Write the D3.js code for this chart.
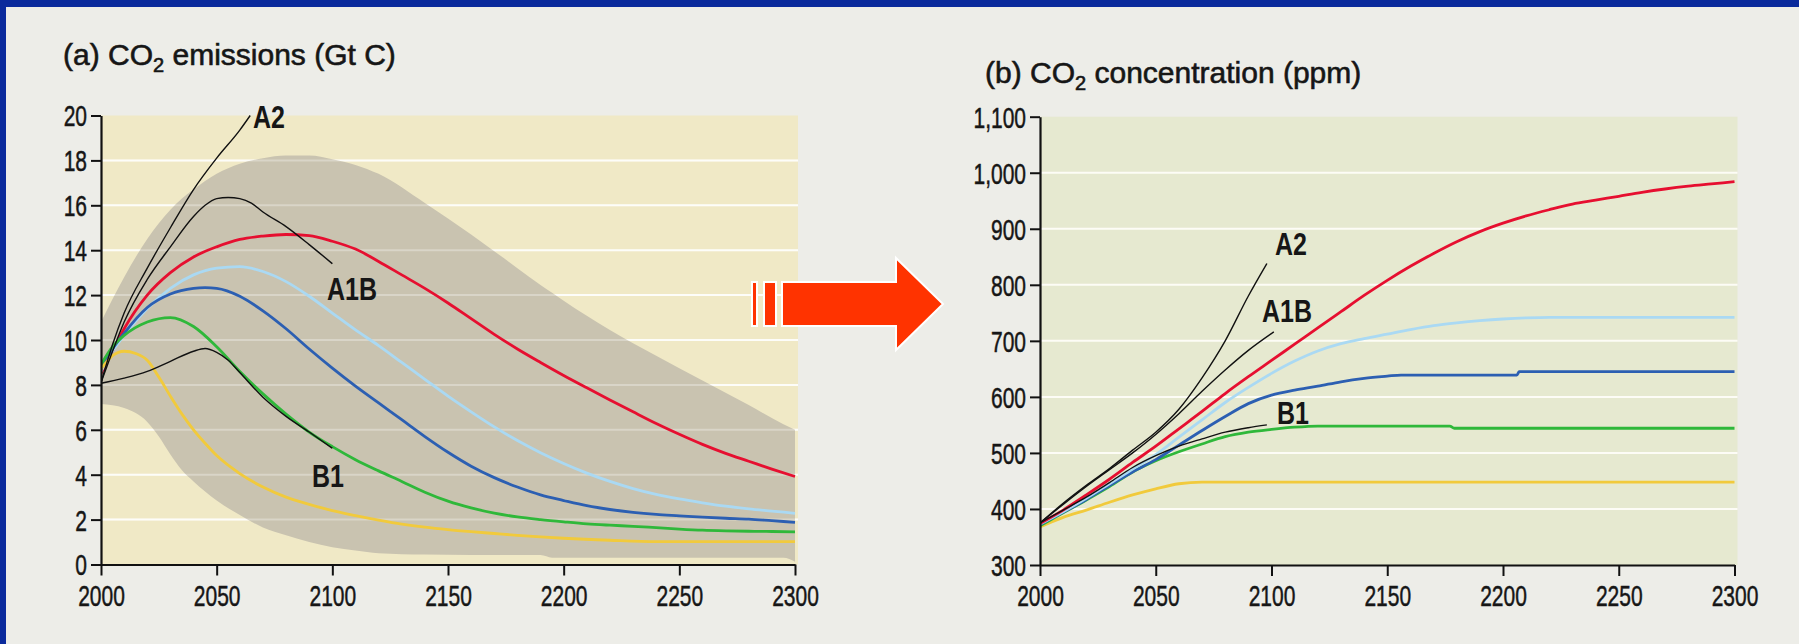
<!DOCTYPE html>
<html>
<head>
<meta charset="utf-8">
<script src="https://cdn.jsdelivr.net/npm/d3@7"></script>
<style>
  html, body { margin: 0; padding: 0; background: #0a2a9c; }
  svg { display: block; }
  text { font-family: 'Liberation Sans', Arial, Helvetica, sans-serif; fill: #161616; }
</style>
</head>
<body>
<svg id="chart"></svg>
<script>
let W = 1799, H = 644

// ---- panel (a) CO2 emissions (Gt C) ----
const envYears = [2000, 2010, 2020, 2025, 2030, 2035, 2040, 2050, 2060, 2070, 2080, 2090, 2100, 2110, 2120, 2140, 2160, 2180, 2190, 2195, 2200, 2220, 2240, 2260, 2280, 2295, 2300]
const envUpper = [10.8, 12.8, 14.5, 15.2, 15.8, 16.3, 16.7, 17.4, 17.85, 18.1, 18.22, 18.22, 18.05, 17.8, 17.4, 16.1, 14.7, 13.2, 12.45, 12.1, 11.75, 10.45, 9.3, 8.2, 7.1, 6.25, 6.0]
const envLower = [7.15, 6.97, 6.35, 5.7, 4.9, 4.2, 3.7, 2.85, 2.2, 1.65, 1.3, 1.0, 0.77, 0.62, 0.5, 0.44, 0.42, 0.42, 0.42, 0.3, 0.3, 0.3, 0.3, 0.3, 0.3, 0.3, 0.12]

const emisRed = [[2000, 8.5], [2005, 9.5], [2010, 10.5], [2020, 12.0], [2030, 13.0], [2040, 13.7], [2050, 14.15], [2060, 14.48], [2070, 14.63], [2080, 14.7], [2090, 14.65], [2100, 14.4], [2110, 14.05], [2120, 13.5], [2130, 12.9], [2140, 12.3], [2150, 11.65], [2160, 10.95], [2170, 10.25], [2180, 9.6], [2190, 9.0], [2200, 8.42], [2210, 7.87], [2220, 7.33], [2230, 6.8], [2240, 6.28], [2250, 5.8], [2260, 5.35], [2270, 4.95], [2280, 4.6], [2290, 4.25], [2300, 3.92]]
const emisLtBlue = [[2000, 8.6], [2005, 9.5], [2010, 10.2], [2020, 11.4], [2030, 12.3], [2040, 12.9], [2050, 13.2], [2060, 13.27], [2070, 13.05], [2080, 12.6], [2090, 11.95], [2100, 11.2], [2110, 10.45], [2120, 9.75], [2130, 9.0], [2140, 8.25], [2150, 7.5], [2160, 6.8], [2170, 6.13], [2180, 5.52], [2190, 4.98], [2200, 4.5], [2210, 4.07], [2220, 3.7], [2230, 3.38], [2240, 3.12], [2250, 2.92], [2260, 2.75], [2270, 2.6], [2280, 2.48], [2290, 2.38], [2300, 2.28]]
const emisBlue = [[2000, 8.7], [2005, 9.6], [2010, 10.3], [2020, 11.45], [2030, 12.05], [2040, 12.3], [2045, 12.33], [2050, 12.3], [2060, 11.95], [2070, 11.3], [2080, 10.5], [2090, 9.6], [2100, 8.75], [2110, 7.95], [2120, 7.2], [2130, 6.45], [2140, 5.7], [2150, 5.0], [2160, 4.38], [2170, 3.87], [2180, 3.45], [2190, 3.1], [2200, 2.85], [2210, 2.62], [2220, 2.45], [2230, 2.32], [2240, 2.23], [2250, 2.17], [2260, 2.11], [2270, 2.06], [2280, 2.02], [2290, 1.95], [2300, 1.88]]
const emisGreen = [[2000, 8.9], [2005, 9.7], [2010, 10.2], [2020, 10.8], [2030, 11.0], [2040, 10.6], [2050, 9.7], [2060, 8.6], [2070, 7.6], [2080, 6.7], [2090, 5.9], [2100, 5.25], [2110, 4.67], [2120, 4.17], [2130, 3.7], [2140, 3.22], [2150, 2.82], [2160, 2.52], [2170, 2.29], [2180, 2.12], [2190, 2.0], [2200, 1.9], [2210, 1.81], [2220, 1.75], [2230, 1.7], [2240, 1.64], [2250, 1.58], [2260, 1.53], [2270, 1.5], [2280, 1.48], [2290, 1.47], [2300, 1.45]]
const emisYellow = [[2000, 8.7], [2005, 9.3], [2010, 9.5], [2015, 9.4], [2020, 9.1], [2025, 8.35], [2030, 7.5], [2035, 6.7], [2040, 6.0], [2045, 5.4], [2050, 4.85], [2060, 4.05], [2070, 3.45], [2080, 3.0], [2090, 2.68], [2100, 2.4], [2110, 2.18], [2120, 1.98], [2130, 1.8], [2140, 1.66], [2150, 1.55], [2160, 1.46], [2170, 1.38], [2180, 1.3], [2190, 1.23], [2200, 1.17], [2220, 1.08], [2240, 1.02], [2300, 1.02]]
const emisA2 = [[2000, 8.1], [2005, 9.8], [2010, 11.2], [2020, 13.2], [2030, 15.0], [2040, 16.7], [2050, 18.1], [2060, 19.35], [2064.5, 20]]
const emisA1B = [[2000, 8.1], [2005, 9.5], [2010, 10.8], [2020, 12.7], [2030, 14.15], [2040, 15.5], [2045, 16.0], [2050, 16.3], [2055, 16.35], [2060, 16.3], [2065, 16.1], [2070, 15.7], [2080, 15.05], [2090, 14.25], [2100, 13.4]]
const emisB1 = [[2000, 8.07], [2010, 8.3], [2020, 8.6], [2030, 9.05], [2040, 9.5], [2045, 9.62], [2050, 9.45], [2055, 9.1], [2060, 8.55], [2070, 7.45], [2080, 6.6], [2090, 5.9], [2100, 5.18]]

// ---- panel (b) CO2 concentration (ppm) ----
const concRed = [[2000, 374], [2010, 398], [2020, 425], [2030, 453], [2040, 483], [2050, 512], [2060, 543], [2070, 574], [2080, 606], [2090, 636], [2100, 665], [2110, 694], [2120, 723], [2130, 752], [2140, 781], [2150, 808], [2160, 833], [2170, 856], [2180, 877], [2190, 895], [2200, 910], [2210, 923], [2220, 934], [2230, 944], [2240, 951], [2250, 958], [2260, 965], [2270, 971], [2280, 976], [2290, 980], [2300, 984]]
const concLtBlue = [[2000, 373], [2010, 395], [2020, 419], [2030, 445], [2040, 471], [2050, 497], [2060, 528], [2070, 559], [2080, 590], [2090, 617], [2100, 642], [2110, 664], [2120, 682], [2130, 695], [2140, 704], [2150, 712], [2160, 720], [2170, 727], [2180, 732], [2190, 736], [2200, 739], [2210, 741], [2220, 742], [2300, 742]]
const concBlue = [[2000, 372], [2010, 394], [2020, 417], [2030, 442], [2040, 466], [2050, 488], [2060, 514], [2070, 540], [2080, 565], [2090, 588], [2100, 603], [2110, 612], [2120, 619], [2130, 627], [2140, 633], [2150, 637], [2156, 639], [2206, 639], [2207, 645], [2300, 645]]
const concGreen = [[2000, 370], [2010, 393], [2020, 416], [2030, 440], [2040, 466], [2050, 486], [2060, 502], [2070, 516], [2080, 529], [2090, 537], [2100, 542], [2110, 546], [2120, 548], [2177, 548], [2179, 544], [2300, 544]]
const concYellow = [[2000, 368], [2010, 385], [2020, 398], [2030, 412], [2040, 425], [2050, 436], [2060, 445], [2070, 448], [2300, 448]]
const concA2 = [[2000, 375], [2010, 410], [2020, 442], [2030, 472], [2040, 505], [2050, 537], [2060, 578], [2070, 634], [2080, 700], [2090, 780], [2098, 838]]
const concA1B = [[2000, 375], [2010, 408], [2020, 440], [2030, 470], [2040, 500], [2050, 533], [2060, 570], [2070, 610], [2080, 648], [2090, 683], [2101, 716]]
const concB1 = [[2000, 375], [2010, 398], [2020, 421], [2030, 447], [2040, 474], [2050, 495], [2060, 512], [2070, 525], [2080, 537], [2090, 545], [2098, 550]]

const xTicks = [2000, 2050, 2100, 2150, 2200, 2250, 2300]
const yTicksA = [0, 2, 4, 6, 8, 10, 12, 14, 16, 18, 20]
const yTicksB = [300, 400, 500, 600, 700, 800, 900, 1000, 1100]

// scenario labels: [text, year, value]
const labelsA = [['A2', 2065.7, 19.44], ['A1B', 2097.7, 11.78], ['B1', 2091.2, 3.45]]
const labelsB = [['A2', 2101.5, 853], ['A1B', 2095.9, 733], ['B1', 2102.4, 551]]

const colors = { red: '#e60f30', ltblue: '#aad9f3', blue: '#2c5fb2', green: '#2fb83a', yellow: '#f1ca3c' }

let translate = (x, y) => 'translate(' + x + ',' + y + ')'
let SY = 1.38      // tick labels are tall and narrow in the original
let LSY = 1.22

let svg = d3.select('#chart').attr('width', W).attr('height', H)

// frame
svg.append('rect').attr('width', W).attr('height', H).attr('fill', '#0a2a9c')
svg.append('rect').attr('x', 6).attr('y', 7).attr('width', W - 6).attr('height', H - 7).attr('fill', '#ededE8')

let defs = svg.append('defs')

function panel(cfg) {
  let g = svg.append('g')
  let x = cfg.x, y = cfg.y
  let [x0, x1] = x.range()
  let [y0, y1] = y.range()

  g.append('rect')
    .attr('x', x0).attr('y', y1)
    .attr('width', x1 - x0 + 3).attr('height', y0 - y1)
    .attr('fill', cfg.bg)

  let grid = cfg.yTicks.slice(1, -1)
  g.append('g').selectAll('line').data(grid).join('line')
    .attr('x1', x0).attr('x2', x1 + 3)
    .attr('y1', d => y(d)).attr('y2', d => y(d))
    .attr('stroke', '#fdfcf6').attr('stroke-width', 2)

  defs.append('clipPath').attr('id', cfg.id + '-clip')
    .append('rect').attr('x', x0).attr('y', y1 - 1).attr('width', x1 - x0 + 3).attr('height', y0 - y1 + 1)

  let plot = g.append('g').attr('clip-path', 'url(#' + cfg.id + '-clip)')

  if (cfg.env) {
    let area = d3.area()
      .x((d, i) => x(envYears[i]))
      .y0((d, i) => y(envLower[i]))
      .y1((d, i) => y(envUpper[i]))
      .curve(d3.curveMonotoneX)
    plot.append('path').datum(envYears).attr('d', area).attr('fill', '#c9c3b0')
    plot.append('g').selectAll('line').data(grid).join('line')
      .attr('x1', x0).attr('x2', x1 + 3)
      .attr('y1', d => y(d)).attr('y2', d => y(d))
      .attr('stroke', '#ffffff').attr('stroke-opacity', 0.3).attr('stroke-width', 2)
  }

  let line = d3.line().x(d => x(d[0])).y(d => y(d[1])).curve(d3.curveMonotoneX)

  for (let s of cfg.series) {
    plot.append('path').datum(s.data)
      .attr('d', line)
      .attr('fill', 'none')
      .attr('stroke', s.color)
      .attr('stroke-width', s.width)
      .attr('stroke-linejoin', 'round')
  }

  // axes
  let xAxis = d3.axisBottom(x).tickValues(xTicks).tickFormat(d3.format('d')).tickSize(11).tickSizeOuter(0)
  let gx = g.append('g').attr('transform', translate(0, y0)).call(xAxis)
  let yAxis = d3.axisLeft(y).tickValues(cfg.yTicks).tickFormat(cfg.fmt).tickSize(10).tickSizeOuter(0)
  let gy = g.append('g').attr('transform', translate(x0, 0)).call(yAxis)

  for (let ax of [gx, gy]) {
    ax.attr('font-family', null).attr('font-size', null)
    ax.select('.domain').attr('stroke', '#111').attr('stroke-width', 2.2)
    ax.selectAll('.tick line').attr('stroke', '#111').attr('stroke-width', 2)
    ax.selectAll('.tick text').attr('fill', '#161616').style('font-size', '21px')
      .attr('stroke', '#161616').attr('stroke-width', 0.35)
      .attr('x', null).attr('y', null).attr('dy', null)
  }
  gx.selectAll('.tick text').attr('transform', translate(0, 41) + ' scale(1,' + SY + ')')
  gy.selectAll('.tick text').attr('transform', translate(-14, 10.4) + ' scale(1,' + SY + ')')

  // title
  let t = g.append('text')
    .attr('transform', translate(cfg.titleX, cfg.titleY))
    .attr('stroke', '#161616').attr('stroke-width', 0.6)
    .style('font-size', '30px')
  t.append('tspan').text(cfg.title[0])
  t.append('tspan').attr('dy', 7).style('font-size', '20px').text('2')
  t.append('tspan').attr('dy', -7).text(cfg.title[1])

  // scenario labels
  g.append('g').selectAll('text').data(cfg.labels).join('text')
    .attr('transform', d => translate(x(d[1]), y(d[2])) + ' scale(1,' + LSY + ')')
    .style('font-size', '25px')
    .style('font-weight', 'bold')
    .text(d => d[0])
}

let xA = d3.scaleLinear().domain([2000, 2300]).range([101, 795])
let yA = d3.scaleLinear().domain([0, 20]).range([564.5, 115.5])
let xB = d3.scaleLinear().domain([2000, 2300]).range([1040, 1734.5])
let yB = d3.scaleLinear().domain([300, 1100]).range([565, 116.7])

panel({
  id: 'a', x: xA, y: yA, bg: '#f0e9c6', env: true,
  yTicks: yTicksA, fmt: d3.format('d'),
  title: ['(a) CO', ' emissions (Gt C)'], titleX: 63, titleY: 65,
  labels: labelsA,
  series: [
    { data: emisRed, color: colors.red, width: 2.8 },
    { data: emisLtBlue, color: colors.ltblue, width: 2.8 },
    { data: emisBlue, color: colors.blue, width: 2.8 },
    { data: emisGreen, color: colors.green, width: 2.8 },
    { data: emisYellow, color: colors.yellow, width: 2.8 },
    { data: emisA2, color: '#111', width: 1.4 },
    { data: emisA1B, color: '#111', width: 1.4 },
    { data: emisB1, color: '#111', width: 1.4 }
  ]
})

panel({
  id: 'b', x: xB, y: yB, bg: '#e6e9d0', env: false,
  yTicks: yTicksB, fmt: d3.format(','),
  title: ['(b) CO', ' concentration (ppm)'], titleX: 985, titleY: 83,
  labels: labelsB,
  series: [
    { data: concYellow, color: colors.yellow, width: 2.8 },
    { data: concGreen, color: colors.green, width: 2.8 },
    { data: concBlue, color: colors.blue, width: 2.8 },
    { data: concLtBlue, color: colors.ltblue, width: 2.8 },
    { data: concRed, color: colors.red, width: 2.8 },
    { data: concB1, color: '#111', width: 1.4 },
    { data: concA1B, color: '#111', width: 1.4 },
    { data: concA2, color: '#111', width: 1.4 }
  ]
})

// arrow between the panels
let arrow = svg.append('g').attr('fill', '#ff3300').attr('stroke', '#ffffff').attr('stroke-width', 2)
arrow.append('rect').attr('x', 752).attr('y', 282).attr('width', 5).attr('height', 44)
arrow.append('rect').attr('x', 764).attr('y', 282).attr('width', 12).attr('height', 44)
arrow.append('path').attr('d', 'M782,282 L896,282 L896,258 L943,304 L896,350 L896,326 L782,326 Z')
</script>
</body>
</html>
